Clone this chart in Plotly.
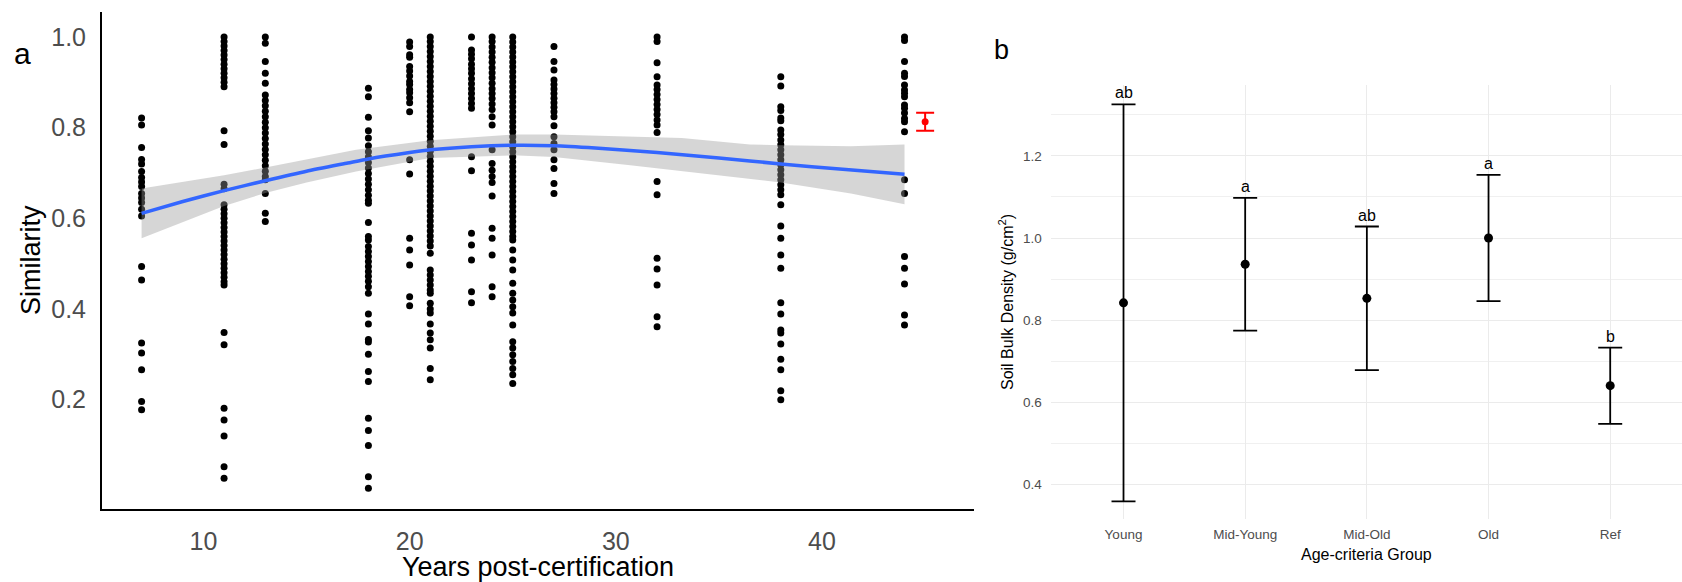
import plotly.graph_objects as go

W, H = 1682, 582
FONT = "Liberation Sans, Arial, sans-serif"

# ---- Panel a: similarity by years post-certification ----
years = [7, 11, 13, 18, 20, 21, 23, 24, 25, 27, 32, 38, 44]

sim_07 = [0.821, 0.806, 0.756, 0.730, 0.720, 0.703, 0.690, 0.680, 0.670, 0.655, 0.645,
          0.635, 0.620, 0.605, 0.494, 0.464, 0.325, 0.303, 0.266, 0.196, 0.178]
sim_11 = [1.000, 0.990, 0.980, 0.970, 0.960, 0.950, 0.940, 0.930, 0.920, 0.910, 0.900,
          0.890, 0.793, 0.763, 0.675, 0.665, 0.630, 0.620, 0.610, 0.600, 0.590, 0.580,
          0.570, 0.560, 0.550, 0.540, 0.530, 0.520, 0.510, 0.500, 0.490, 0.480, 0.470,
          0.460, 0.453, 0.348, 0.321, 0.181, 0.155, 0.120, 0.052, 0.027]
sim_13 = [1.000, 0.986, 0.946, 0.920, 0.898, 0.872, 0.860, 0.848, 0.836, 0.824, 0.812,
          0.800, 0.788, 0.776, 0.764, 0.752, 0.740, 0.728, 0.716, 0.704, 0.692, 0.685,
          0.655, 0.611, 0.593]
sim_18 = [0.887, 0.868, 0.823, 0.793, 0.777, 0.760, 0.747, 0.735, 0.723, 0.711, 0.699,
          0.687, 0.675, 0.663, 0.651, 0.640, 0.633, 0.591, 0.560, 0.552, 0.538, 0.527,
          0.516, 0.505, 0.494, 0.483, 0.472, 0.461, 0.449, 0.435, 0.389, 0.367, 0.333,
          0.327, 0.300, 0.262, 0.240, 0.159, 0.132, 0.099, 0.030, 0.005]
sim_20 = [0.989, 0.979, 0.961, 0.955, 0.935, 0.925, 0.914, 0.902, 0.895, 0.884, 0.877,
          0.866, 0.855, 0.835, 0.729, 0.698, 0.556, 0.530, 0.497, 0.427, 0.407]
sim_21 = [1.000, 0.990, 0.979, 0.968, 0.957, 0.946, 0.935, 0.924, 0.913, 0.902, 0.891,
          0.880, 0.869, 0.858, 0.847, 0.836, 0.825, 0.814, 0.803, 0.792, 0.781, 0.770,
          0.759, 0.748, 0.737, 0.726, 0.715, 0.704, 0.693, 0.682, 0.671, 0.660, 0.649,
          0.638, 0.627, 0.616, 0.605, 0.594, 0.583, 0.572, 0.561, 0.550, 0.539, 0.523,
          0.486, 0.475, 0.464, 0.453, 0.442, 0.435, 0.413, 0.400, 0.391, 0.367, 0.347,
          0.332, 0.314, 0.269, 0.244]
sim_23 = [1.000, 0.971, 0.962, 0.952, 0.940, 0.930, 0.920, 0.908, 0.897, 0.886, 0.875,
          0.864, 0.853, 0.843, 0.736, 0.705, 0.567, 0.541, 0.508, 0.438, 0.414]
sim_24 = [1.000, 0.990, 0.978, 0.967, 0.955, 0.944, 0.932, 0.921, 0.910, 0.898, 0.886,
          0.875, 0.864, 0.852, 0.840, 0.824, 0.806, 0.751, 0.721, 0.706, 0.692, 0.679,
          0.649, 0.578, 0.556, 0.519, 0.449, 0.427]
sim_25 = [1.000, 0.989, 0.978, 0.967, 0.956, 0.945, 0.934, 0.923, 0.912, 0.901, 0.890,
          0.879, 0.868, 0.857, 0.846, 0.835, 0.824, 0.813, 0.802, 0.791, 0.780, 0.769,
          0.758, 0.747, 0.736, 0.725, 0.714, 0.703, 0.692, 0.681, 0.670, 0.659, 0.648,
          0.637, 0.626, 0.615, 0.604, 0.593, 0.582, 0.571, 0.560, 0.552, 0.530, 0.508,
          0.486, 0.457, 0.435, 0.420, 0.405, 0.391, 0.365, 0.328, 0.314, 0.299, 0.284,
          0.269, 0.255, 0.236]
sim_27 = [0.979, 0.946, 0.927, 0.905, 0.895, 0.885, 0.875, 0.865, 0.855, 0.845, 0.835,
          0.824, 0.804, 0.780, 0.765, 0.751, 0.729, 0.710, 0.677, 0.655]
sim_32 = [1.000, 0.990, 0.943, 0.912, 0.894, 0.884, 0.873, 0.862, 0.851, 0.840, 0.829,
          0.817, 0.806, 0.789, 0.681, 0.652, 0.512, 0.488, 0.453, 0.383, 0.361]
sim_38 = [0.912, 0.892, 0.846, 0.838, 0.821, 0.815, 0.795, 0.785, 0.773, 0.762, 0.751,
          0.740, 0.729, 0.718, 0.707, 0.696, 0.685, 0.674, 0.663, 0.652, 0.630, 0.583,
          0.556, 0.519, 0.490, 0.414, 0.389, 0.354, 0.347, 0.323, 0.289, 0.266, 0.220,
          0.200]
sim_44 = [1.000, 0.992, 0.946, 0.920, 0.913, 0.894, 0.883, 0.876, 0.868, 0.850, 0.843,
          0.832, 0.820, 0.813, 0.791, 0.685, 0.655, 0.516, 0.490, 0.455, 0.387, 0.365]

sim_columns = [sim_07, sim_11, sim_13, sim_18, sim_20, sim_21, sim_23, sim_24,
               sim_25, sim_27, sim_32, sim_38, sim_44]

# smoothed trend and its confidence band
fit_x = [7, 9, 11, 13, 15, 17, 18, 20, 21, 23, 25, 27, 29, 32, 35, 38, 41, 44]
fit_y = [0.611, 0.637, 0.661, 0.683, 0.704, 0.722, 0.731, 0.745, 0.751, 0.758, 0.761,
         0.760, 0.755, 0.745, 0.733, 0.720, 0.708, 0.697]
band_x = [7, 11, 13, 15, 17.4, 21, 25, 27, 30.7, 33.2, 36.5, 38, 41.4, 44]
band_hi = [0.666, 0.695, 0.712, 0.730, 0.751, 0.772, 0.785, 0.785, 0.781, 0.777, 0.763,
           0.761, 0.759, 0.763]
band_lo = [0.556, 0.627, 0.656, 0.679, 0.703, 0.733, 0.739, 0.735, 0.717, 0.703, 0.687,
           0.679, 0.655, 0.631]

# reference value
ref_x = 45
ref_mean = 0.813
ref_err = 0.020

# ---- Panel b: soil bulk density by age group ----
groups = ["Young", "Mid-Young", "Mid-Old", "Old", "Ref"]
bd_mean = [0.842, 0.936, 0.853, 1.000, 0.640]
bd_err = [0.484, 0.162, 0.175, 0.154, 0.093]
bd_letters = ["ab", "a", "ab", "a", "b"]

fig = go.Figure()

pts_x, pts_y = [], []
for yr, col in zip(years, sim_columns):
    pts_x += [yr] * len(col)
    pts_y += col

fig.add_trace(go.Scatter(
    x=pts_x, y=pts_y, mode="markers",
    marker=dict(color="black", size=7, line=dict(width=0)),
    xaxis="x", yaxis="y", showlegend=False, hoverinfo="x+y"))

fig.add_trace(go.Scatter(
    x=band_x + band_x[::-1], y=band_hi + band_lo[::-1],
    fill="toself", fillcolor="rgba(153,153,153,0.4)", line=dict(width=0),
    mode="lines", xaxis="x", yaxis="y", showlegend=False, hoverinfo="skip"))

fig.add_trace(go.Scatter(
    x=fit_x, y=fit_y, mode="lines", line=dict(color="#3366FF", width=3.5),
    line_shape="spline", line_smoothing=0.6,
    xaxis="x", yaxis="y", showlegend=False))

fig.add_trace(go.Scatter(
    x=[ref_x], y=[ref_mean], mode="markers",
    marker=dict(color="red", size=7),
    error_y=dict(type="data", array=[ref_err], color="red", thickness=2, width=9),
    xaxis="x", yaxis="y", showlegend=False))

fig.add_trace(go.Scatter(
    x=groups, y=bd_mean, mode="markers",
    marker=dict(color="black", size=9),
    error_y=dict(type="data", array=bd_err, color="black", thickness=1.8, width=12),
    xaxis="x2", yaxis="y2", showlegend=False))

annotations = []
for g, m, e, lab in zip(groups, bd_mean, bd_err, bd_letters):
    annotations.append(dict(
        x=g, y=m + e, xref="x2", yref="y2", text=lab, showarrow=False,
        yanchor="bottom", yshift=1, font=dict(family=FONT, size=16, color="black")))

annotations += [
    dict(text="a", x=22 / W, y=1 - 53 / H, xref="paper", yref="paper", showarrow=False,
         xanchor="center", yanchor="middle", font=dict(family=FONT, size=30, color="black")),
    dict(text="b", x=1001 / W, y=1 - 50 / H, xref="paper", yref="paper", showarrow=False,
         xanchor="center", yanchor="middle", font=dict(family=FONT, size=27, color="black")),
    dict(text="Similarity", x=31 / W, y=1 - 260 / H, xref="paper", yref="paper",
         showarrow=False, textangle=-90, xanchor="center", yanchor="middle",
         font=dict(family=FONT, size=27, color="black")),
    dict(text="Years post-certification", x=538 / W, y=1 - 567 / H, xref="paper",
         yref="paper", showarrow=False, xanchor="center", yanchor="middle",
         font=dict(family=FONT, size=27, color="black")),
    dict(text="Soil Bulk Density (g/cm<sup>2</sup>)", x=1006 / W, y=1 - 302 / H,
         xref="paper", yref="paper", showarrow=False, textangle=-90,
         xanchor="center", yanchor="middle", font=dict(family=FONT, size=16, color="black")),
    dict(text="Age-criteria Group", x=1366 / W, y=1 - 554 / H, xref="paper",
         yref="paper", showarrow=False, xanchor="center", yanchor="middle",
         font=dict(family=FONT, size=16, color="black")),
]

fig.update_layout(
    width=W, height=H, margin=dict(l=0, r=0, t=0, b=0),
    paper_bgcolor="white", plot_bgcolor="white",
    font=dict(family=FONT),
    showlegend=False,
    annotations=annotations,
    xaxis=dict(
        domain=[102 / W, 974 / W], range=[5.08, 47.37],
        tickvals=[10, 20, 30, 40], showgrid=False, zeroline=False,
        showline=True, linecolor="black", linewidth=2,
        ticks="outside", ticklen=9, tickcolor="rgba(0,0,0,0)",
        tickfont=dict(family=FONT, size=25, color="#4d4d4d"), anchor="y"),
    yaxis=dict(
        domain=[1 - 509 / H, 1 - 12 / H], range=[-0.041, 1.055],
        tickvals=[0.2, 0.4, 0.6, 0.8, 1.0], ticktext=["0.2", "0.4", "0.6", "0.8", "1.0"],
        showgrid=False, zeroline=False,
        showline=True, linecolor="black", linewidth=2,
        ticks="outside", ticklen=9, tickcolor="rgba(0,0,0,0)",
        tickfont=dict(family=FONT, size=25, color="#4d4d4d"), anchor="x"),
    xaxis2=dict(
        domain=[1050.5 / W, 1.0], range=[-0.6, 4.59], type="category",
        categoryorder="array", categoryarray=groups,
        showgrid=True, gridcolor="#ebebeb", gridwidth=1.4, zeroline=False,
        showline=False, ticks="outside", ticklen=3, tickcolor="rgba(0,0,0,0)",
        tickfont=dict(family=FONT, size=13.5, color="#4d4d4d"), anchor="y2"),
    yaxis2=dict(
        domain=[1 - 519 / H, 1 - 85 / H], range=[0.315, 1.373],
        tickvals=[0.4, 0.6, 0.8, 1.0, 1.2], ticktext=["0.4", "0.6", "0.8", "1.0", "1.2"],
        showgrid=True, gridcolor="#ebebeb", gridwidth=1.4, zeroline=False,
        minor=dict(tickvals=[0.5, 0.7, 0.9, 1.1, 1.3], showgrid=True,
                   gridcolor="#f0f0f0", gridwidth=1),
        showline=False, ticks="outside", ticklen=5, tickcolor="rgba(0,0,0,0)",
        tickfont=dict(family=FONT, size=13.5, color="#4d4d4d"), anchor="x2"),
)

fig.write_html("out.html")
